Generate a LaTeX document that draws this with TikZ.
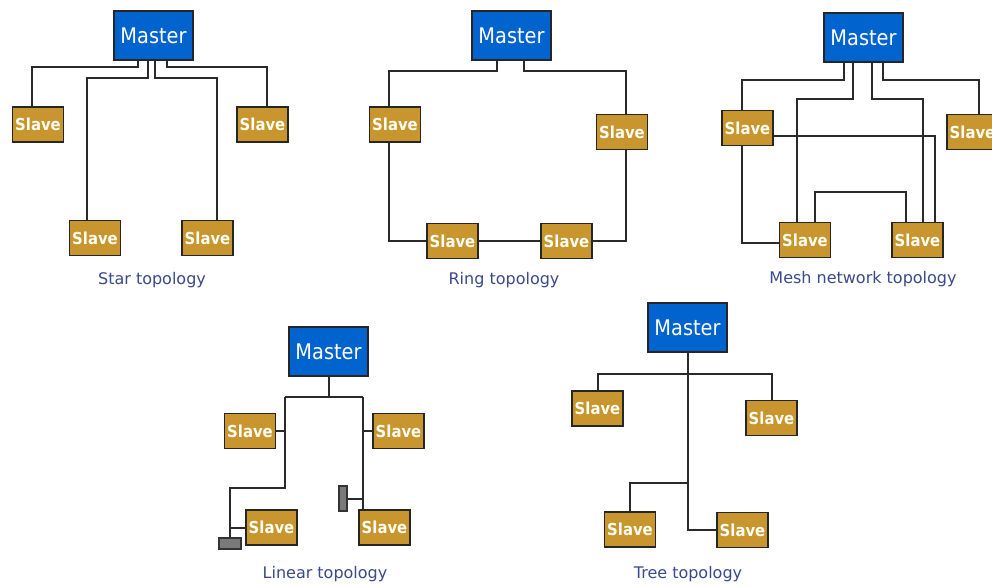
\documentclass[tikz,border=0pt]{standalone}
\usepackage{fontspec}
\setmainfont{DejaVu Sans}
\newfontfamily\condfont{DejaVu Sans Condensed}
\definecolor{masterblue}{HTML}{0063CE}
\definecolor{slavegold}{HTML}{C9952F}
\definecolor{captionblue}{HTML}{3A4A8A}
\definecolor{termgray}{HTML}{7A7A7A}
\definecolor{wire}{HTML}{2A2A2A}
\begin{document}
\begin{tikzpicture}[x=1pt,y=-1pt,
  master/.style={draw=black!85, fill=masterblue, line width=1.6pt, minimum width=79pt, minimum height=49pt, inner sep=0pt, text=white, font=\condfont\fontsize{21.5}{21.5}\selectfont},
  slave/.style={draw=black!85, fill=slavegold, line width=1.6pt, minimum width=51pt, minimum height=35pt, inner sep=0pt, text=white!95!yellow, font=\condfont\bfseries\fontsize{16.5}{16.5}\selectfont},
  term/.style={draw=black!80, fill=termgray, line width=1.2pt, inner sep=0pt},
  caption/.style={text=captionblue, font=\fontsize{16}{16}\selectfont, inner sep=0pt},
  wires/.style={draw=wire, line width=2pt}]
\useasboundingbox (0,0) rectangle (992,586);
\fill[white] (0,0) rectangle (992,586);

% ---------- Star ----------
\node[master] (sM) at (153.5,35.5) {Master};
\node[slave] (s1) at (38,124.5) {Slave};
\node[slave] (s2) at (262.5,124.5) {Slave};
\node[slave] (s3) at (95,238) {Slave};
\node[slave] (s4) at (207.5,238) {Slave};
\node[caption] (sC) at (152,280) {Star topology};
\path[wires] ([xshift=-15.5pt]sM.south) -- ++(0,6) -| ([xshift=-6pt]s1.north);
\path[wires] ([xshift=-5.5pt]sM.south) -- ++(0,17) -| ([xshift=-8pt]s3.north);
\path[wires] ([xshift=1.5pt]sM.south) -- ++(0,17) -| ([xshift=9.5pt]s4.north);
\path[wires] ([xshift=13.5pt]sM.south) -- ++(0,6) -| ([xshift=4.5pt]s2.north);

% ---------- Ring ----------
\node[master] (rM) at (511.5,35.5) {Master};
\node[slave] (rL) at (395,124.5) {Slave};
\node[slave] (rR) at (622,132) {Slave};
\node[slave] (rBL) at (452.5,241) {Slave};
\node[slave] (rBR) at (566.5,241) {Slave};
\node[caption] (rC) at (504,280) {Ring topology};
\path[wires] ([xshift=-14.5pt]rM.south) -- ++(0,10) -| ([xshift=-6pt]rL.north);
\path[wires] ([xshift=12.5pt]rM.south) -- ++(0,10) -| ([xshift=4pt]rR.north);
\path[wires] ([xshift=-6pt]rL.south) |- (rBL.west);
\path[wires] (rBL.east) -- (rBR.west);
\path[wires] (rBR.east) -| ([xshift=4pt]rR.south);

% ---------- Mesh ----------
\node[master] (mM) at (863.5,37.5) {Master};
\node[slave] (mA) at (747.5,128) {Slave};
\node[slave] (mB) at (972.5,132) {Slave};
\node[slave] (mC) at (805,240) {Slave};
\node[slave] (mD) at (917.5,240) {Slave};
\node[caption] (mCap) at (863,279) {Mesh network topology};
\path[wires] ([xshift=-19.5pt]mM.south) -- ++(0,17) -| ([xshift=-5.5pt]mA.north);
\path[wires] ([xshift=-10.5pt]mM.south) -- ++(0,36) -| ([xshift=-8pt]mC.north);
\path[wires] ([xshift=8.5pt]mM.south) -- ++(0,36) -| ([xshift=5.5pt]mD.north);
\path[wires] ([xshift=19.5pt]mM.south) -- ++(0,17) -| ([xshift=6.5pt]mB.north);
\path[wires] ([yshift=-8pt]mA.east) -| ([xshift=17.5pt]mD.north);
\path[wires] ([xshift=-5.5pt]mA.south) |- ([yshift=-3pt]mC.west);
\path[wires] ([xshift=10pt]mC.north) -- ++(0,-30) -| ([xshift=-11.5pt]mD.north);

% ---------- Linear ----------
\node[master] (lM) at (328.5,351.5) {Master};
\node[slave] (lL1) at (250,431) {Slave};
\node[slave] (lL2) at (271.5,527.5) {Slave};
\node[slave] (lR1) at (398.5,431) {Slave};
\node[slave] (lR2) at (384.5,527.5) {Slave};
\node[term, minimum width=22pt, minimum height=11pt] (lTL) at (230,543.5) {};
\node[term, minimum width=8pt, minimum height=25pt] (lTR) at (343,498.5) {};
\node[caption] (lC) at (325,574) {Linear topology};
\coordinate (lbl) at (285,397);
\coordinate (lbr) at (363,397);
\path[wires] (lM.south) -- (lM.south |- lbl);
\path[wires] (lbl) -- (lbr);
\path[wires] (lbl) -- ++(0,91) -| (lTL.north);
\path[wires] (lL1.east) -- (lL1.east -| lbl);
\path[wires] (lL2.west) -- (lL2.west -| lTL.north);
\path[wires] (lbr) -- (lR2.north -| lbr);
\path[wires] (lR1.west) -- (lR1.west -| lbr);
\path[wires] (lTR.east) -- (lTR.east -| lbr);

% ---------- Tree ----------
\node[master] (tM) at (687.5,327.5) {Master};
\node[slave] (tTL) at (597.5,408.5) {Slave};
\node[slave] (tTR) at (771.5,418) {Slave};
\node[slave] (tBL) at (630,529.5) {Slave};
\node[slave] (tBR) at (742.5,530) {Slave};
\node[caption] (tC) at (688,574) {Tree topology};
\path[wires] (tM.south) |- (tBR.west);
\path[wires] (tTL.north) |- (tM.south |- 0,374) -| (tTR.north);
\path[wires] (tBL.north) |- (tM.south |- 0,483);
\end{tikzpicture}
\end{document}
